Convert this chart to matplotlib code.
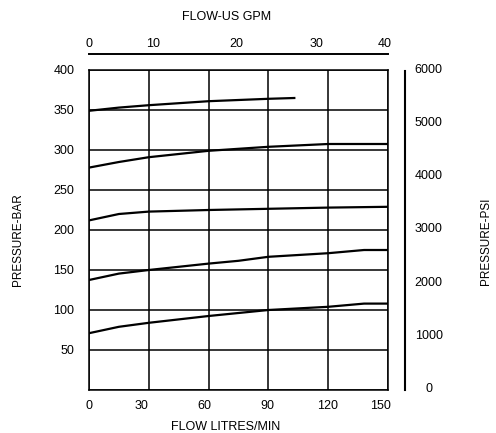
import matplotlib
matplotlib.use('Agg')
import matplotlib.pyplot as plt

# curves (flow L/min, pressure bar)
c1_x = [0, 15, 30, 60, 90, 103]
c1_y = [349, 353, 356, 361, 364, 365]
c2_x = [0, 15, 30, 60, 90, 120, 150]
c2_y = [278, 285, 291, 299, 304, 307.5, 307.5]
c3_x = [0, 15, 30, 60, 90, 120, 150]
c3_y = [212, 220, 223, 225, 226.5, 228, 229]
c4_x = [0, 15, 30, 60, 75, 90, 120, 138, 150]
c4_y = [137.5, 145.5, 150, 158, 161.5, 166.5, 171, 175, 175]
c5_x = [0, 15, 30, 60, 90, 120, 138, 150]
c5_y = [71, 79, 84, 92.5, 100, 104, 108, 108]

flow_ticks = [0, 30, 60, 90, 120, 150]
flow_labels = ['0', '30', '60', '90', '120', '150']
bar_ticks = [0, 50, 100, 150, 200, 250, 300, 350, 400]
bar_labels = ['', '50', '100', '150', '200', '250', '300', '350', '400']
gpm_labels = ['0', '10', '20', '30', '40']
psi_ticks = [0, 1000, 2000, 3000, 4000, 5000, 6000]
psi_labels = ['0', '1000', '2000', '3000', '4000', '5000', '6000']

# where the labels sit in the picture (in L/min units)
flow_label_pos = [0, 26.3, 58, 89.5, 119.5, 146.3]
gpm_label_pos = [0, 31.9, 73.9, 114.2, 148.4]

plt.rcParams['font.family'] = ['Liberation Sans', 'DejaVu Sans']
plt.rcParams['font.size'] = 9

W, H = 496, 433
fig = plt.figure(figsize=(W / 100, H / 100), dpi=100)


def box(x0, y0, x1, y1):
    # pixel box -> figure fraction
    return [x0 / W, 1 - y1 / H, (x1 - x0) / W, (y1 - y0) / H]


ax = fig.add_axes(box(89, 70, 388, 390))
top = ax.twiny()   # made first, twiny resets the bottom tick labels
ax.set_xlim(0, 150)
ax.set_ylim(0, 400)
for s in ax.spines.values():
    s.set_linewidth(1.1)
    s.set_color('black')

ax.xaxis.remove_overlapping_locs = False
ax.set_xticks(flow_ticks)
ax.set_xticks(flow_label_pos, labels=flow_labels, minor=True)
ax.tick_params(axis='x', which='major', labelbottom=False, length=0)
ax.tick_params(axis='x', which='minor', labelbottom=True, length=0, pad=7)
ax.set_yticks(bar_ticks, labels=bar_labels)
ax.tick_params(axis='y', length=0, pad=10.5)
ax.grid(True, which='major', color='black', linewidth=1.1)

for xs, ys in [(c1_x, c1_y), (c2_x, c2_y), (c3_x, c3_y), (c4_x, c4_y), (c5_x, c5_y)]:
    ax.plot(xs, ys, color='black', linewidth=1.6, solid_joinstyle='round', zorder=3)

ax.set_xlabel('FLOW LITRES/MIN', va='center')
ax.xaxis.set_label_coords((226 - 89) / 299, (390 - 427) / 320)
ax.set_ylabel('PRESSURE-BAR', va='center', ha='center', fontsize=8.5)
ax.yaxis.set_label_coords((18 - 89) / 299, (390 - 240) / 320)

# top scale: US GPM
top.set_xlim(0, 150)
for k in ['left', 'right', 'bottom']:
    top.spines[k].set_visible(False)
top.spines['top'].set_position(('outward', 11.5))
top.spines['top'].set_linewidth(1.4)
top.set_xticks(gpm_label_pos, labels=gpm_labels)
top.tick_params(axis='x', length=0, pad=3)
top.set_xlabel('FLOW-US GPM', va='center')
top.xaxis.set_label_coords((227 - 89) / 299, (390 - 17) / 320)

# right scale: PSI
right = fig.add_axes(box(89, 60, 405, 395))
right.patch.set_visible(False)
for k in ['left', 'top', 'bottom']:
    right.spines[k].set_visible(False)
right.set_xticks([])
right.set_ylim((387.3 - 395) / 0.05314, (387.3 - 60) / 0.05314)
right.spines['right'].set_bounds((387.3 - 390) / 0.05314, (387.3 - 71) / 0.05314)
right.spines['right'].set_linewidth(1.5)
right.yaxis.tick_right()
right.set_yticks(psi_ticks, labels=psi_labels)
right.tick_params(axis='y', length=0, pad=17)
for lbl in right.get_yticklabels():
    lbl.set_horizontalalignment('center')
right.yaxis.set_label_position('right')
right.set_ylabel('PRESSURE-PSI', rotation=90, va='center', ha='center', fontsize=8.5)
right.yaxis.set_label_coords((486 - 89) / 316, (395 - 241) / 335)

fig.savefig('out.png', dpi=100)
